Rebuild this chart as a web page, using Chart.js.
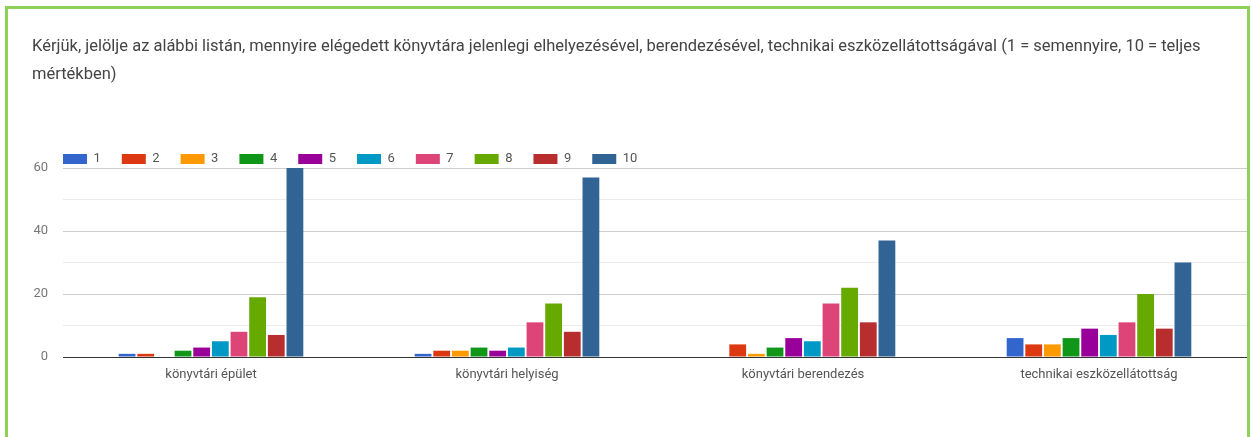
<!DOCTYPE html>
<html>
<head>
<meta charset="utf-8">
<script src="https://cdn.jsdelivr.net/npm/chart.js@4.4.1/dist/chart.umd.min.js"></script>
<style>
  html, body { margin: 0; padding: 0; background: #fff; }
  .card {
    position: absolute; left: 5px; top: 6px;
    width: 1239px; height: 440px;
    border: 3px solid #8dd156; border-bottom: none;
  }
  #chart { display: block; }
</style>
</head>
<body>
<div class="card"><canvas id="chart" width="1239" height="428"></canvas></div>
<script>
const titleLines = [
  'Kérjük, jelölje az alábbi listán, mennyire elégedett könyvtára jelenlegi elhelyezésével, berendezésével, technikai eszközellátottságával (1 = semennyire, 10 = teljes',
  'mértékben)'
];
const categories = ['könyvtári épület', 'könyvtári helyiség', 'könyvtári berendezés', 'technikai eszközellátottság'];
const seriesNames = ['1', '2', '3', '4', '5', '6', '7', '8', '9', '10'];
const seriesColors = ['#3366cc', '#dc3912', '#ff9900', '#109618', '#990099', '#0099c6', '#dd4477', '#66aa00', '#b82e2e', '#316395'];

// one array per rating, values per category
const rating1 = [1, 1, 0, 6];
const rating2 = [1, 2, 4, 4];
const rating3 = [0, 2, 1, 4];
const rating4 = [2, 3, 3, 6];
const rating5 = [3, 2, 6, 9];
const rating6 = [5, 3, 5, 7];
const rating7 = [8, 11, 17, 11];
const rating8 = [19, 17, 22, 20];
const rating9 = [7, 8, 11, 9];
const rating10 = [60, 57, 37, 30];
const ratings = [rating1, rating2, rating3, rating4, rating5, rating6, rating7, rating8, rating9, rating10];

const yTicks = [0, 20, 40, 60];

// legend sits a bit lower/right than Chart.js would put it
const nudgeLegend = {
  id: 'nudgeLegend',
  afterLayout(chart) {
    const lg = chart.legend;
    lg.left += 10; lg.right += 10;
    lg.top += 7.5; lg.bottom += 7.5;
  }
};

const ctx = document.getElementById('chart').getContext('2d');
new Chart(ctx, {
  type: 'bar',
  data: {
    labels: categories,
    datasets: ratings.map((vals, i) => ({
      label: seriesNames[i],
      data: vals,
      backgroundColor: seriesColors[i],
      borderWidth: 0,
      categoryPercentage: 0.63,
      barPercentage: 0.9
    }))
  },
  options: {
    responsive: false,
    animation: false,
    layout: { padding: { left: 24, top: 0, right: 0, bottom: 50 } },
    scales: {
      y: {
        min: 0,
        max: 60,
        border: { display: false },
        grid: {
          drawTicks: false,
          color: c => c.tick.value === 0 ? '#333333' : (c.tick.value % 20 === 0 ? '#cccccc' : '#ebebeb')
        },
        ticks: {
          stepSize: 10,
          padding: 15,
          color: '#777',
          font: { family: 'Roboto', size: 13 },
          callback: v => yTicks.includes(v) ? v : ''
        },
        afterFit: s => { s.width = 31; }
      },
      x: {
        border: { display: false },
        grid: { display: false, drawTicks: false },
        ticks: {
          padding: 10,
          color: '#555',
          font: { family: 'Roboto', size: 13 },
          maxRotation: 0
        },
        afterFit: s => { s.height = 30; }
      }
    },
    plugins: {
      title: {
        display: true,
        text: titleLines,
        align: 'start',
        color: '#444',
        font: { family: 'Roboto', size: 16.5, weight: 'normal', lineHeight: '28px' },
        padding: { top: 24, bottom: 35 }
      },
      legend: {
        align: 'start',
        labels: {
          boxWidth: 24,
          boxHeight: 10,
          padding: 21,
          color: '#555',
          font: { family: 'Roboto', size: 13 }
        }
      },
      tooltip: { enabled: false }
    }
  },
  plugins: [nudgeLegend]
});
</script>
</body>
</html>
